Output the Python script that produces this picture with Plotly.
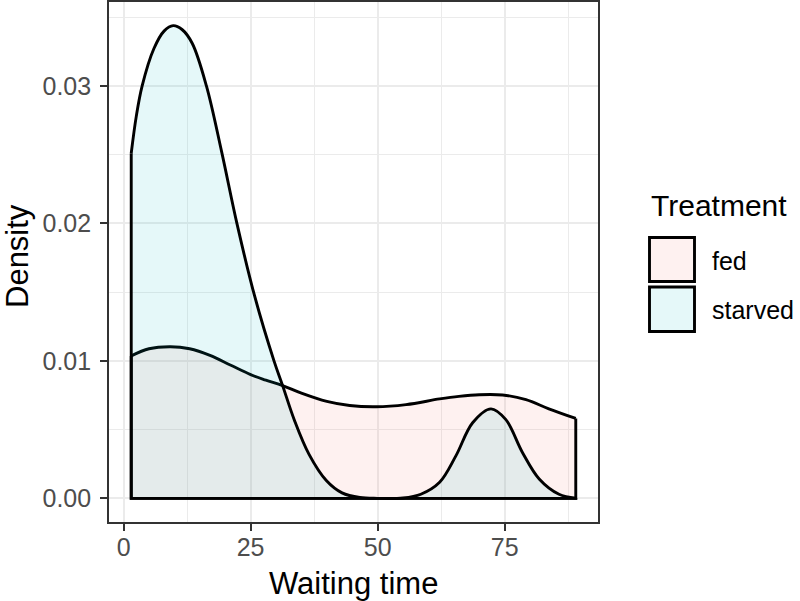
import plotly.graph_objects as go

# ---- data ----
fed_x = [1.5, 5, 9.2, 13, 17, 21, 25, 28, 31.3, 35, 40, 44.5, 49.7, 55.6, 62.2, 66, 70.0, 74.6, 79.2, 83.7, 89]
fed_y = [0.01036, 0.01088, 0.01103, 0.01088, 0.01040, 0.00970, 0.00900, 0.00860, 0.00820, 0.00765, 0.00705, 0.00675,
         0.00666, 0.00682, 0.00723, 0.00742, 0.00754, 0.00752, 0.00718, 0.00651, 0.00581]

starved_x = [1.5, 2.5, 3.65, 5.95, 8, 9.75, 11.5, 13.5, 16.3, 19.3, 22.3, 25.8, 29.6, 31.3, 33.6, 36.5, 39.9, 43,
             46.5, 50, 55, 58.5, 62.2, 65.4, 68.7, 72.3, 75.2, 78.5, 81.8, 85.7, 89]
starved_y = [0.0251, 0.0278, 0.0300, 0.0327, 0.0340, 0.03438, 0.0341, 0.0331, 0.0300, 0.0252, 0.0200, 0.0147, 0.0100,
             0.0082, 0.0057, 0.0032, 0.0013, 0.0004, 0.00006, 0.0, 0.00003, 0.0003, 0.00117, 0.00309, 0.0055,
             0.00651, 0.00574, 0.00334, 0.00141, 0.0003, 0.00002]

groups = ["fed", "starved"]
fills = ["rgba(248,118,109,0.1)", "rgba(0,191,196,0.1)"]
x_ticks = [0, 25, 50, 75]
y_ticks = [0.00, 0.01, 0.02, 0.03]

W, H = 800, 601
ML, MR, MT, MB = 109, 202, 2, 79
PW, PH = W - ML - MR, H - MT - MB

def px(p):
    return (p - ML) / PW

def py(p):
    return 1 - (p - MT) / PH

FONT = "Liberation Sans, Arial, Helvetica, sans-serif"
LW = 2.9

fig = go.Figure()
for xs, ys, fc in [(fed_x, fed_y, fills[0]), (starved_x, starved_y, fills[1])]:
    fig.add_trace(go.Scatter(x=xs, y=ys, mode="lines", line=dict(color="black", width=LW, shape="spline", smoothing=1.0),
                             fill="tozeroy", fillcolor=fc, showlegend=False, hoverinfo="skip"))
    fig.add_trace(go.Scatter(x=[xs[0], xs[0], xs[-1], xs[-1]], y=[ys[0], 0, 0, ys[-1]], mode="lines",
                             line=dict(color="black", width=LW), showlegend=False, hoverinfo="skip"))

axis_common = dict(showline=True, mirror=True, linecolor="#333333", linewidth=1.6,
                   ticks="outside", ticklen=7, tickwidth=2, tickcolor="#333333",
                   showgrid=True, gridcolor="#EBEBEB", gridwidth=1.9, zeroline=False,
                   tickfont=dict(family=FONT, size=25, color="#4D4D4D"))

fig.update_xaxes(range=[-2.875, 93.375], tickvals=x_ticks, ticklabelstandoff=-5,
                 minor=dict(dtick=12.5, tick0=0, showgrid=True, gridcolor="#EBEBEB", gridwidth=0.9, ticks=""),
                 **axis_common)
fig.update_yaxes(range=[-0.00172, 0.0361], tickvals=y_ticks, tickformat=".2f", ticklabelstandoff=4,
                 minor=dict(dtick=0.005, tick0=0, showgrid=True, gridcolor="#EBEBEB", gridwidth=0.9, ticks=""),
                 **axis_common)

ann = []
ann.append(dict(text="Waiting time", x=px(353.4), y=py(583), xref="paper", yref="paper", showarrow=False,
                xanchor="center", yanchor="middle", font=dict(family=FONT, size=31, color="black")))
ann.append(dict(text="Density", x=px(17), y=py(256), xref="paper", yref="paper", showarrow=False, textangle=-90,
                xanchor="center", yanchor="middle", font=dict(family=FONT, size=31, color="black")))
ann.append(dict(text="Treatment", x=px(649), y=py(206), xref="paper", yref="paper", showarrow=False,
                xanchor="left", yanchor="middle", font=dict(family=FONT, size=30, color="black")))
shapes = []
key_rows = [(237.5, 281.5), (287.0, 331.5)]
for g, fc, (y0, y1) in zip(groups, fills, key_rows):
    shapes.append(dict(type="rect", xref="paper", yref="paper", x0=px(649.5), x1=px(694.5), y0=py(y1), y1=py(y0),
                       line=dict(color="black", width=LW), fillcolor=fc))
    ann.append(dict(text=g, x=px(710), y=py((y0 + y1) / 2 + 1), xref="paper", yref="paper", showarrow=False,
                    xanchor="left", yanchor="middle", font=dict(family=FONT, size=25, color="black")))

fig.update_layout(width=W, height=H, margin=dict(l=ML, r=MR, t=MT, b=MB, autoexpand=False),
                  plot_bgcolor="white", paper_bgcolor="white", showlegend=False,
                  annotations=ann, shapes=shapes)

fig.write_html("out.html", config={"displayModeBar": False},
               post_script="document.body.style.margin='0';document.body.style.overflow='hidden';")
